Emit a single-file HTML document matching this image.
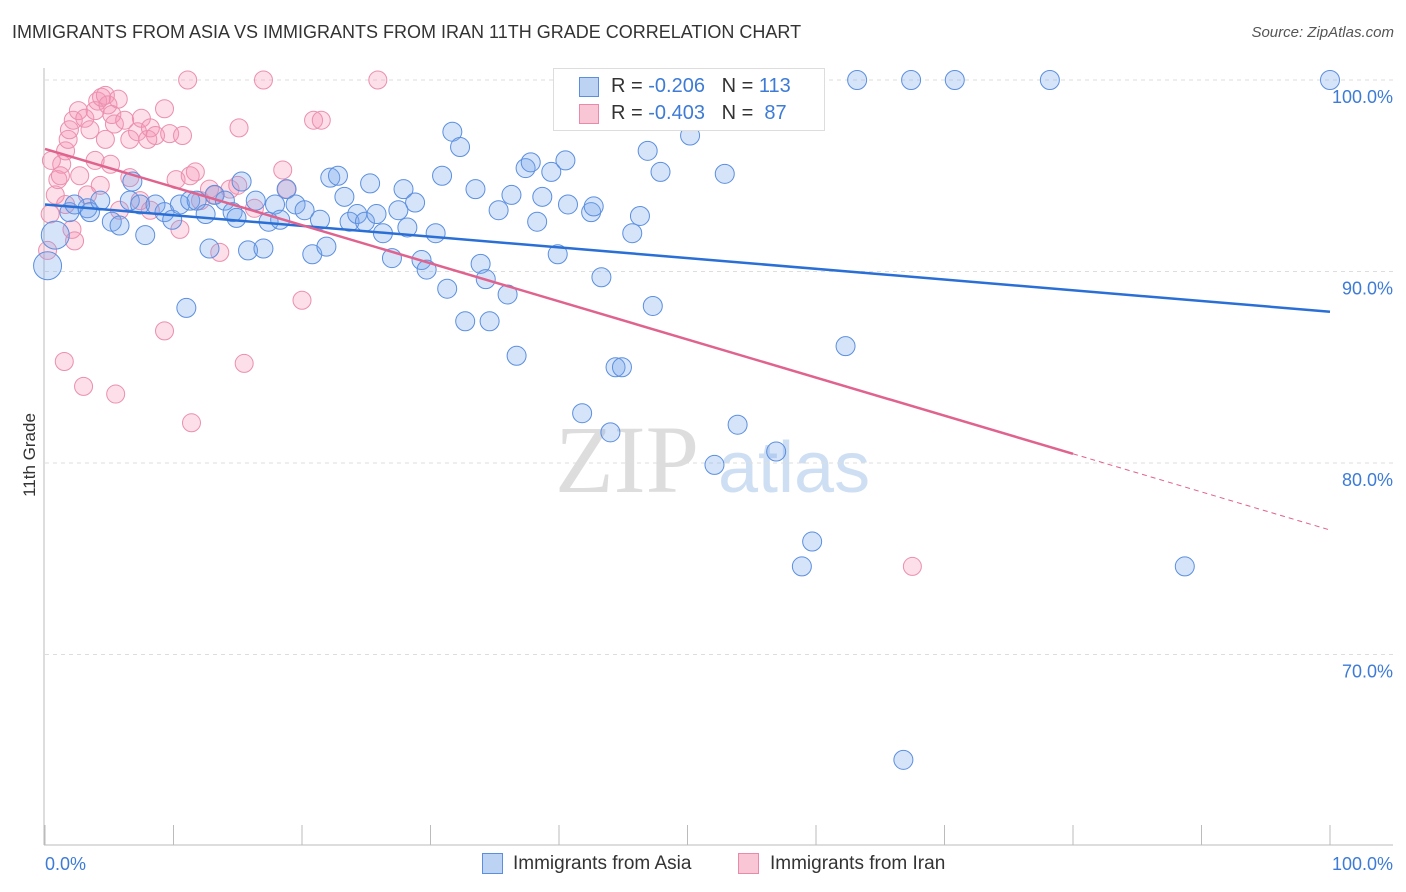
<!DOCTYPE html>
<html><head><meta charset="utf-8"><style>
body{margin:0;background:#fff;font-family:"Liberation Sans",sans-serif}
#c{position:relative;width:1406px;height:892px;overflow:hidden}
.t{position:absolute;white-space:nowrap}
</style></head><body>
<div id="c">
<div class="t" style="left:12px;top:22px;font-size:18px;color:#333">IMMIGRANTS FROM ASIA VS IMMIGRANTS FROM IRAN 11TH GRADE CORRELATION CHART</div>
<div class="t" style="right:12px;top:24px;font-size:15px;color:#555;font-style:italic">Source: ZipAtlas.com</div>
<div class="t" style="left:-12px;top:445px;font-size:17px;color:#333;transform:rotate(-90deg)">11th Grade</div>
<svg id="s" width="1406" height="892" style="position:absolute;left:0;top:0">
<text x="555" y="492" font-size="96" fill="#ddd" font-family="Liberation Serif">ZIP</text>
<text x="718" y="492" font-size="72" fill="#cfdff3" font-family="Liberation Sans">atlas</text>
</svg>
<div style="position:absolute;left:553px;top:68px;width:270px;height:61px;border:1px solid #ddd;background:#fff">
<div style="position:absolute;left:25px;top:8px;width:18px;height:18px;background:#bcd3f3;border:1px solid #5a8fe0"></div>
<div class="t" style="left:57px;top:6px;font-size:20px;color:#333">R = <span style="color:#3d7bd6">-0.206</span> &nbsp; N = <span style="color:#3d7bd6">113</span></div>
<div style="position:absolute;left:25px;top:35px;width:18px;height:18px;background:#f8c6d5;border:1px solid #e88aa8"></div>
<div class="t" style="left:57px;top:33px;font-size:20px;color:#333">R = <span style="color:#3d7bd6">-0.403</span> &nbsp; N = <span style="color:#3d7bd6">&nbsp;87</span></div>
</div>
<div style="position:absolute;left:482px;top:853px;width:19px;height:19px;background:#bcd3f3;border:1px solid #5a8fe0"></div>
<div class="t" style="left:513px;top:853px;font-size:19px;color:#333">Immigrants from Asia</div>
<div style="position:absolute;left:738px;top:853px;width:19px;height:19px;background:#f8c6d5;border:1px solid #e88aa8"></div>
<div class="t" style="left:770px;top:853px;font-size:19px;color:#333">Immigrants from Iran</div>
</div>
<script>
const yTicks=[100,90,80,70];
const yTickLabels=["100.0%","90.0%","80.0%","70.0%"];
const xTickVals=[0,10,20,30,40,50,60,70,80,90,100];
const asiaX=[0.2,0.8,1.9,3.3,2.3,3.5,4.3,5.2,5.8,6.6,6.8,7.4,7.8,8.6,9.3,9.9,10.5,11.3,11.8,12.5,12.8,13.2,14.0,14.6,14.9,15.3,15.8,16.4,17.0,17.4,17.9,18.3,18.8,19.5,20.2,20.8,21.4,21.9,22.2,22.8,23.3,23.7,24.3,24.9,25.3,25.8,26.3,27.0,27.5,27.9,28.2,28.8,29.3,29.7,30.4,30.9,31.3,31.7,32.3,32.7,33.5,33.9,34.3,34.6,35.3,36.0,36.3,36.7,37.4,37.8,38.3,38.7,39.4,39.9,40.5,40.7,41.8,42.5,42.7,43.3,44.0,44.4,44.9,45.7,46.3,46.9,47.3,47.9,50.2,50.8,52.9,53.3,53.9,54.5,56.9,58.9,59.7,62.3,63.2,67.4,70.8,78.2,88.7,100,66.8,52.1,11.0];
const asiaY=[90.3,91.9,93.1,93.3,93.5,93.1,93.7,92.6,92.4,93.7,94.7,93.5,91.9,93.5,93.1,92.7,93.5,93.7,93.7,93.0,91.2,94.0,93.7,93.1,92.8,94.7,91.1,93.7,91.2,92.6,93.5,92.7,94.3,93.5,93.2,90.9,92.7,91.3,94.9,95.0,93.9,92.6,93.0,92.6,94.6,93.0,92.0,90.7,93.2,94.3,92.3,93.6,90.6,90.1,92.0,95.0,89.1,97.3,96.5,87.4,94.3,90.4,89.6,87.4,93.2,88.8,94.0,85.6,95.4,95.7,92.6,93.9,95.2,90.9,95.8,93.5,82.6,93.1,93.4,89.7,81.6,85.0,85.0,92.0,92.9,96.3,88.2,95.2,97.1,99.0,95.1,100,82.0,98.0,80.6,74.6,75.9,86.1,100,100,100,100,74.6,100,64.5,79.9,88.1];
const iranX=[0.2,0.4,0.8,1.0,1.3,1.6,1.8,1.9,2.2,2.6,3.1,3.5,3.9,4.1,4.4,4.7,4.9,5.2,5.4,5.7,6.2,6.6,7.2,7.5,8.0,8.2,8.6,9.3,9.7,10.2,10.7,11.1,11.3,11.7,12.1,12.8,13.2,13.6,14.4,15.0,15.1,15.5,16.3,17.0,18.5,18.8,20.0,20.9,21.5,25.9,67.5,1.5,3.0,5.5,11.4,9.3,2.7,2.1,3.9,4.7,1.2,0.5,5.1,6.6,4.3,7.4,2.3,3.3,5.8,1.6,8.2,10.5];
const iranY=[91.1,93.0,94.0,94.8,95.6,96.3,96.9,97.4,97.9,98.4,98.0,97.4,98.4,98.9,99.1,99.2,98.7,98.2,97.7,99.0,97.9,96.9,97.3,98.0,96.9,97.5,97.1,98.5,97.2,94.8,97.1,100,95.0,95.2,93.7,94.3,94.0,91.0,94.3,94.5,97.5,85.2,93.3,100,95.3,94.3,88.5,97.9,97.9,100,74.6,85.3,84.0,83.6,82.1,86.9,95.0,92.2,95.8,96.9,95.0,95.8,95.6,94.9,94.5,93.7,91.6,94.0,93.2,93.5,93.2,92.2];
const asiaLine=[93.5,87.9];
const iranLine=[96.4,76.5];
const iranSolidEnd=80;
const NS="http://www.w3.org/2000/svg";
const svg=document.getElementById('s');
const X=v=>45+v*12.85, Y=v=>80+(100-v)*19.15;
function mk(t,a){const e=document.createElementNS(NS,t);for(const k in a)e.setAttribute(k,a[k]);svg.appendChild(e);return e;}
yTicks.forEach((v,i)=>{
 const g=mk('line',{x1:45,x2:1393,y1:Y(v),y2:Y(v),stroke:'#ddd','stroke-dasharray':'4,4'});
 
 
 const t=mk('text',{x:1393,y:Y(v)+23,'text-anchor':'end','font-size':18,fill:'#3d7bd6'});
 t.textContent=yTickLabels[i];
 
 
});
const ax=mk('line',{x1:44,x2:44,y1:68,y2:845,stroke:'#bbb'});


const bx=mk('line',{x1:44,x2:1393,y1:845,y2:845,stroke:'#bbb'});


xTickVals.forEach(v=>{
 const l=mk('line',{x1:X(v),x2:X(v),y1:825,y2:845,stroke:'#bbb'});
 
 
});
const xl0=mk('text',{x:45,y:870,'font-size':18,fill:'#3d7bd6'});xl0.textContent='0.0%';


const xl1=mk('text',{x:1393,y:870,'text-anchor':'end','font-size':18,fill:'#3d7bd6'});xl1.textContent='100.0%';


iranX.forEach((x,i)=>{
 const c=mk('circle',{cx:X(x),cy:Y(iranY[i]),r:9,fill:'rgba(244,150,180,0.3)',stroke:'#eb8fae','stroke-width':1});
 
 
});
asiaX.forEach((x,i)=>{
 const big=i<2;
 const c=mk('circle',{cx:X(x),cy:Y(asiaY[i]),r:big?14:9.5,fill:'rgba(120,165,235,0.3)',stroke:'#5b8fdf','stroke-width':1});
 
 
});
const la=mk('line',{x1:X(0),y1:Y(asiaLine[0]),x2:X(100),y2:Y(asiaLine[1]),stroke:'#2a6fd6','stroke-width':2.5});


const iy=v=>iranLine[0]+(iranLine[1]-iranLine[0])*v/100;
const li=mk('line',{x1:X(0),y1:Y(iy(0)),x2:X(iranSolidEnd),y2:Y(iy(iranSolidEnd)),stroke:'#e0628e','stroke-width':2.5});


const ld=mk('line',{x1:X(iranSolidEnd),y1:Y(iy(iranSolidEnd)),x2:X(100),y2:Y(iy(100)),stroke:'#e0628e','stroke-width':1,'stroke-dasharray':'5,4'});


</script>
</body></html>
